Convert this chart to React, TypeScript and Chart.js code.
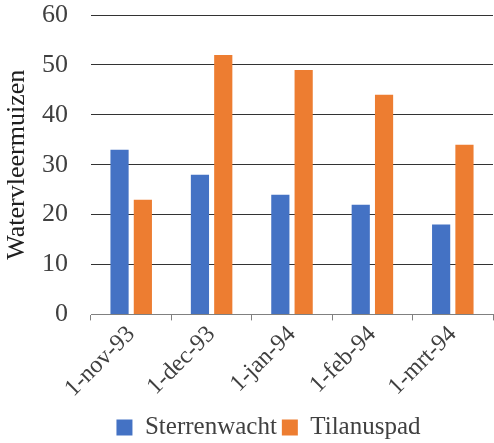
import React, { useEffect, useRef } from "react";
import { Chart, registerables } from "chart.js";

Chart.register(...registerables);

const categories = ["1-nov-93", "1-dec-93", "1-jan-94", "1-feb-94", "1-mrt-94"];
const sterrenwacht = [33, 28, 24, 22, 18];
const tilanuspad = [23, 52, 49, 44, 34];
const yTitle = "Watervleermuizen";

export default function App() {
  const ref = useRef<HTMLCanvasElement | null>(null);
  useEffect(() => {
    document.body.style.margin = "0";
    const font = "'Liberation Serif', 'Times New Roman', serif";
    const shiftLegend = {
      id: "shiftLegend",
      afterLayout(chart: any) {
        if (chart.legend) {
          chart.legend.left += 22;
          chart.legend.right += 22;
          chart.legend.top += 7;
          chart.legend.bottom += 7;
        }
      },
    };
    const chart = new Chart(ref.current!, {
      type: "bar",
      data: {
        labels: categories,
        datasets: [
          { label: "Sterrenwacht", data: sterrenwacht, backgroundColor: "#4472C4", categoryPercentage: 0.58, barPercentage: 0.78 },
          { label: "Tilanuspad", data: tilanuspad, backgroundColor: "#ED7D31", categoryPercentage: 0.58, barPercentage: 0.78 },
        ],
      },
      plugins: [shiftLegend],
      options: {
        animation: false,
        responsive: false,
        maintainAspectRatio: false,
        layout: { padding: { top: 0, right: 1, left: 0, bottom: 0 } },
        plugins: {
          tooltip: { enabled: false },
          legend: {
            position: "bottom",
            labels: { font: { family: font, size: 25 }, color: "#404040", boxWidth: 16, boxHeight: 16, padding: 5 },
          },
        },
        scales: {
          x: {
            grid: { display: true, drawOnChartArea: false, offset: true, tickLength: 6, color: "#808080" },
            border: { display: true, color: "#808080" },
            ticks: { font: { family: font, size: 24 }, color: "#404040", maxRotation: 45, minRotation: 45, padding: 0 },
          },
          y: {
            min: 0,
            max: 60,
            afterFit(scale: any) {
              scale.width = 91;
            },
            ticks: { stepSize: 10, font: { family: font, size: 26, lineHeight: 1 }, color: "#404040", padding: 2 },
            grid: { color: "#333333", drawTicks: true, tickLength: 21, tickColor: "rgba(0,0,0,0)" },
            border: { display: false },
            title: { display: true, text: yTitle, font: { family: font, size: 26 }, color: "#202020", padding: 2 },
          },
        },
      },
    });
    return () => chart.destroy();
  }, []);
  return <canvas ref={ref} width={494} height={443} style={{ display: "block" }} />;
}
